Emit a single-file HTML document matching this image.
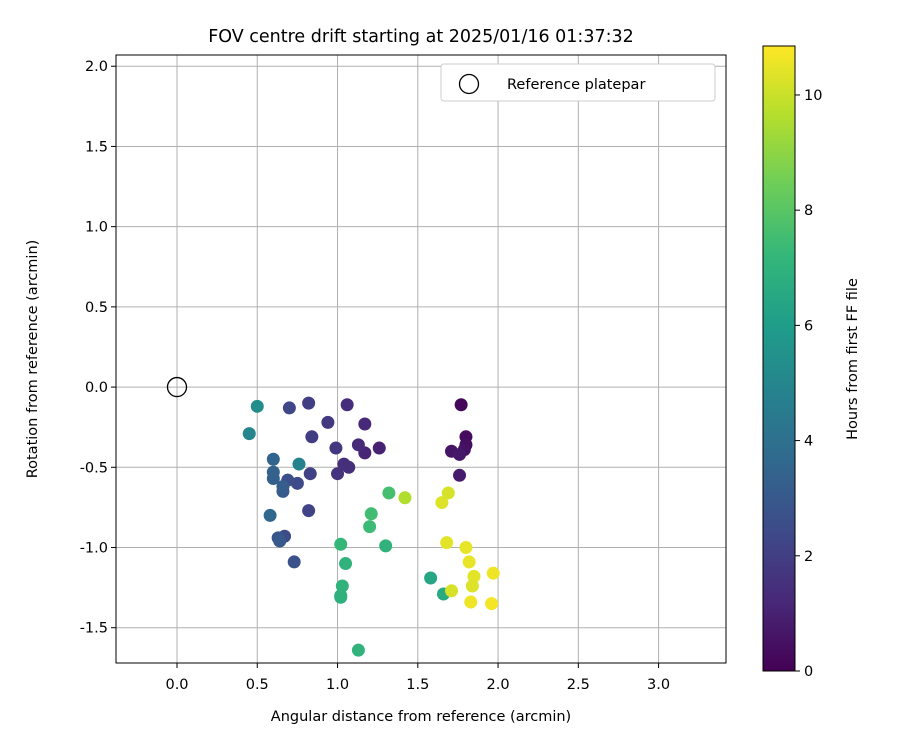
<!DOCTYPE html>
<html><head><meta charset="utf-8"><style>
body{margin:0;background:#fff;}
svg{font-family:"DejaVu Sans","Liberation Sans",sans-serif;}
</style></head><body>
<svg id="c" width="900" height="750" viewBox="0 0 900 750"></svg>
<script>
const xs=[1.77,1.80,1.80,1.79,1.71,1.76,1.76,1.26,1.17,1.17,1.13,1.06,1.07,1.04,1.00,0.99,0.94,0.84,0.82,0.83,0.82,0.70,0.75,0.67,0.69,0.73,0.63,0.64,0.66,0.66,0.60,0.60,0.60,0.58,0.76,0.45,0.50,1.58,1.66,1.02,1.02,1.03,1.05,1.02,1.13,1.30,1.20,1.21,1.32,1.42,1.65,1.69,1.68,1.71,1.80,1.82,1.85,1.84,1.83,1.96,1.97];
const ys=[-0.11,-0.31,-0.36,-0.39,-0.40,-0.42,-0.55,-0.38,-0.41,-0.23,-0.36,-0.11,-0.50,-0.48,-0.54,-0.38,-0.22,-0.31,-0.10,-0.54,-0.77,-0.13,-0.60,-0.93,-0.58,-1.09,-0.94,-0.96,-0.65,-0.62,-0.57,-0.53,-0.45,-0.80,-0.48,-0.29,-0.12,-1.19,-1.29,-1.31,-1.30,-1.24,-1.10,-0.98,-1.64,-0.99,-0.87,-0.79,-0.66,-0.69,-0.72,-0.66,-0.97,-1.27,-1.00,-1.09,-1.18,-1.24,-1.34,-1.35,-1.16];
const hours=[0.2,0.3,0.4,0.5,0.6,0.7,0.8,1.0,1.1,1.2,1.3,1.4,1.5,1.5,1.6,1.7,1.8,1.9,2.0,2.1,2.2,2.3,2.4,2.5,2.6,2.7,2.9,3.0,3.1,3.2,3.3,3.4,3.5,3.6,4.8,5.0,5.3,6.4,6.6,6.8,6.9,7.0,7.0,7.2,7.0,7.0,7.4,7.5,7.6,9.6,10.3,10.2,10.4,10.2,10.5,10.5,10.4,10.3,10.6,10.7,10.6];
const xTicks=[0,0.5,1,1.5,2,2.5,3];
const yTicks=[-1.5,-1,-0.5,0,0.5,1,1.5,2];
const cTicks=[0,2,4,6,8,10];
const L=116,R=726,T=55,B=663,XMIN=-0.38,XMAX=3.42,YMIN=-1.72,YMAX=2.07;
const HMAX=10.85,CT=46,CB=671,CL=763,CR=795;
const sx=v=>L+(v-XMIN)/(XMAX-XMIN)*(R-L);
const sy=v=>B-(v-YMIN)/(YMAX-YMIN)*(B-T);
const sc=h=>CB-h/HMAX*(CB-CT);
const VS=[[68,1,84],[72,40,120],[62,74,137],[49,104,142],[38,130,142],[31,158,137],[53,183,121],[109,205,89],[180,222,44],[253,231,37]];
function vir(t){t=Math.max(0,Math.min(1,t))*(VS.length-1);const i=Math.min(VS.length-2,Math.floor(t)),f=t-i;
return 'rgb('+[0,1,2].map(k=>Math.round(VS[i][k]+(VS[i+1][k]-VS[i][k])*f)).join(',')+')';}
const svg=document.getElementById('c');const NS='http://www.w3.org/2000/svg';
function el(tag,a,txt){const e=document.createElementNS(NS,tag);for(const k in a)e.setAttribute(k,a[k]);if(txt!=null)e.textContent=txt;svg.appendChild(e);return e;}
let e;
e=el('rect',{x:L,y:T,width:R-L,height:B-T,fill:'#fff'});


xTicks.forEach(v=>{const x=sx(v);
e=el('line',{x1:x,x2:x,y1:T,y2:B,stroke:'#b0b0b0','stroke-width':1});


el('line',{x1:x,x2:x,y1:B,y2:B+5,stroke:'#000'});
e=el('text',{x:x,y:B+26,'text-anchor':'middle','font-size':14.5},v.toFixed(1));

});
yTicks.forEach(v=>{const y=sy(v);
e=el('line',{x1:L,x2:R,y1:y,y2:y,stroke:'#b0b0b0','stroke-width':1});


el('line',{x1:L-5,x2:L,y1:y,y2:y,stroke:'#000'});
e=el('text',{x:L-8,y:y+5,'text-anchor':'end','font-size':14.5},v.toFixed(1));

});
e=el('circle',{cx:sx(0),cy:sy(0),r:9.5,fill:'none',stroke:'#000','stroke-width':1.3});


xs.forEach((v,i)=>{e=el('circle',{cx:sx(v),cy:sy(ys[i]),r:6.5,fill:vir(hours[i]/HMAX)});

});
e=el('rect',{x:L,y:T,width:R-L,height:B-T,fill:'none',stroke:'#000','stroke-width':1});


e=el('rect',{x:441,y:64,width:274,height:37,rx:3,fill:'#fff',stroke:'#ccc'});


el('circle',{cx:469,cy:84,r:9.5,fill:'none',stroke:'#000','stroke-width':1.3});
e=el('text',{x:507,y:89,'font-size':14.5},'Reference platepar');


e=el('text',{x:421,y:42,'text-anchor':'middle','font-size':17.5},'FOV centre drift starting at 2025/01/16 01:37:32');


e=el('text',{x:421,y:721,'text-anchor':'middle','font-size':14.5},'Angular distance from reference (arcmin)');


e=el('text',{x:37,y:359,'text-anchor':'middle','font-size':14.5,transform:'rotate(-90 37 359)'},'Rotation from reference (arcmin)');


const defs=document.createElementNS(NS,'defs');svg.appendChild(defs);
const g=document.createElementNS(NS,'linearGradient');g.setAttribute('id','vg');g.setAttribute('x1','0');g.setAttribute('y1','1');g.setAttribute('x2','0');g.setAttribute('y2','0');defs.appendChild(g);
VS.forEach((c,i)=>{const s=document.createElementNS(NS,'stop');s.setAttribute('offset',i/(VS.length-1));s.setAttribute('stop-color','rgb('+c.join(',')+')');g.appendChild(s);});
e=el('rect',{x:CL,y:CT,width:CR-CL,height:CB-CT,fill:'url(#vg)',stroke:'#000','stroke-width':1});


cTicks.forEach(v=>{const y=sc(v);el('line',{x1:CR,x2:CR+5,y1:y,y2:y,stroke:'#000'});
e=el('text',{x:CR+9,y:y+5,'font-size':14.5},String(v));

});
e=el('text',{x:857,y:359,'text-anchor':'middle','font-size':14.5,transform:'rotate(-90 857 359)'},'Hours from first FF file');


</script>
</body></html>
